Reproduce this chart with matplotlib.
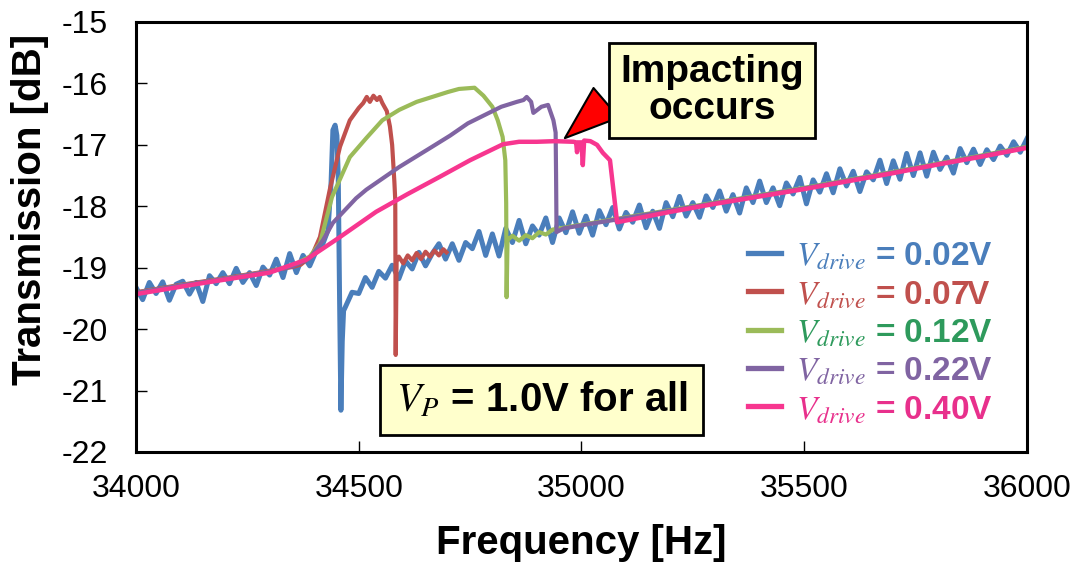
import numpy as np
import matplotlib
matplotlib.use("Agg")
import matplotlib.pyplot as plt

plt.rcParams['font.family'] = ['Liberation Sans', 'DejaVu Sans']
plt.rcParams['mathtext.fontset'] = 'stix'
plt.rcParams['axes.unicode_minus'] = False

# ---- data (frequency in Hz, transmission in dB) ----
# V_drive = 0.02 V (noisy trace, three pieces)
blue_f_left = np.arange(34000, 34421, 15)
blue_t_left = [-19.32, -19.52, -19.24, -19.42, -19.23, -19.53, -19.27, -19.22, -19.43, -19.24,
               -19.55, -19.13, -19.26, -19.08, -19.26, -19.01, -19.24, -19.08, -19.29, -18.99,
               -19.12, -18.86, -19.16, -18.77, -19.08, -18.80, -18.97, -18.72, -18.60]
blue_f_peak = [34431, 34438, 34442, 34447, 34451, 34454, 34457, 34460, 34463, 34466, 34470]
blue_t_peak = [-18.39, -17.60, -16.76, -16.68, -16.85, -17.50, -19.50, -21.32, -20.20, -19.70, -19.64]
blue_f_right = np.arange(34485, 36001, 15)
blue_t_right = [-19.40, -19.42, -19.16, -19.32, -19.06, -19.17, -18.96, -19.18, -18.89, -19.02,
                -18.75, -18.97, -18.77, -18.61, -18.86, -18.61, -18.88, -18.59, -18.69, -18.41,
                -18.80, -18.45, -18.81, -18.36, -18.59, -18.23, -18.61, -18.32, -18.47, -18.19,
                -18.59, -18.19, -18.43, -18.09, -18.44, -18.16, -18.47, -18.07, -18.30, -18.02,
                -18.37, -18.10, -18.26, -17.98, -18.35, -18.08, -18.36, -17.94, -18.17, -17.84,
                -18.16, -17.94, -18.18, -17.83, -18.02, -17.75, -18.08, -17.81, -18.11, -17.70,
                -17.94, -17.59, -17.94, -17.70, -17.99, -17.62, -17.80, -17.53, -17.96, -17.57,
                -17.77, -17.47, -17.78, -17.39, -17.67, -17.43, -17.76, -17.44, -17.57, -17.25,
                -17.63, -17.26, -17.56, -17.14, -17.50, -17.13, -17.51, -17.12, -17.40, -17.20,
                -17.46, -17.06, -17.29, -17.07, -17.32, -17.08, -17.24, -17.02, -17.17, -16.95,
                -17.12, -16.90]

# V_drive = 0.07 V
red_f = [34000, 34100, 34200, 34300, 34350, 34370, 34395, 34413, 34435, 34458, 34480, 34500,
         34510, 34518, 34525, 34533, 34541, 34547, 34553, 34563, 34570, 34575, 34580, 34582, 34583, 34585,
         34590, 34600, 34610, 34620, 34630, 34640, 34650, 34660, 34670, 34680, 34690, 34697]
red_t = [-19.40, -19.28, -19.17, -19.05, -18.99, -18.95, -18.80, -18.50, -17.73, -17.03, -16.60, -16.40,
         -16.32, -16.22, -16.30, -16.20, -16.27, -16.22, -16.32, -16.45, -16.70, -17.00, -17.60, -17.90, -20.42, -18.90,
         -18.82, -18.93, -18.80, -18.88, -18.76, -18.86, -18.74, -18.82, -18.72, -18.80, -18.70, -18.75]

# V_drive = 0.12 V
green_f = [34000, 34100, 34200, 34300, 34350, 34390, 34413, 34440, 34480, 34517, 34553, 34591,
           34630, 34665, 34700, 34725, 34760, 34780, 34800, 34812, 34823, 34829, 34831, 34832,
           34834, 34845, 34860, 34875, 34890, 34905, 34920, 34935, 35000, 35100, 35300, 35500,
           35700, 35900, 36000]
green_t = [-19.41, -19.29, -19.18, -19.06, -18.97, -18.82, -18.60, -17.85, -17.20, -16.89, -16.60, -16.43,
           -16.30, -16.22, -16.14, -16.09, -16.07, -16.20, -16.38, -16.60, -16.87, -17.25, -17.95, -19.48,
           -18.55, -18.48, -18.56, -18.47, -18.52, -18.42, -18.46, -18.38, -18.30, -18.18, -17.94, -17.70,
           -17.44, -17.17, -17.03]

# V_drive = 0.22 V
purple_f = [34000, 34100, 34200, 34300, 34350, 34390, 34420, 34442, 34494, 34517, 34591, 34665,
            34705, 34745, 34820, 34855, 34870, 34877, 34887, 34892, 34910, 34925, 34937, 34942,
            34943, 34944, 34960, 35000, 35100, 35300, 35500, 35700, 35900, 36000]
purple_t = [-19.41, -19.29, -19.18, -19.06, -18.98, -18.85, -18.55, -18.27, -17.87, -17.73, -17.36, -17.03,
            -16.85, -16.65, -16.38, -16.30, -16.27, -16.22, -16.30, -16.48, -16.38, -16.35, -16.60, -16.80,
            -17.50, -18.42, -18.36, -18.31, -18.19, -17.95, -17.71, -17.45, -17.18, -17.04]

# V_drive = 0.40 V
pink_f = [34000, 34150, 34300, 34382, 34450, 34539, 34610, 34682, 34750, 34824, 34860, 34900,
          34940, 34982, 34988, 34990, 34993, 35000, 35003, 35006, 35020, 35035, 35048, 35064,
          35071, 35080, 35200, 35300, 35400, 35500, 35600, 35700, 35800, 35900, 36000]
pink_t = [-19.43, -19.25, -19.08, -18.87, -18.54, -18.09, -17.80, -17.52, -17.25, -16.99, -16.95, -16.95,
          -16.94, -16.95, -16.96, -17.12, -16.96, -16.96, -17.33, -16.93, -16.94, -17.00, -17.13, -17.25,
          -17.69, -18.26, -18.09, -17.96, -17.84, -17.72, -17.59, -17.46, -17.32, -17.19, -17.05]

labels = [r'$V_{drive}$ = 0.02V', r'$V_{drive}$ = 0.07V', r'$V_{drive}$ = 0.12V',
          r'$V_{drive}$ = 0.22V', r'$V_{drive}$ = 0.40V']
line_colors = ['#4a7ebb', '#c0504d', '#9bbb59', '#8064a2', '#f7368f']
text_colors = ['#4a7ebb', '#c0504d', '#2e9a5c', '#8064a2', '#e8308c']

fig = plt.figure(figsize=(10.81, 5.64), dpi=100)
ax = fig.add_axes([0.1258, 0.1986, 0.8242, 0.7624])

blue_f = np.concatenate([blue_f_left, blue_f_peak, blue_f_right])
blue_t = np.concatenate([blue_t_left, blue_t_peak, blue_t_right])

h1, = ax.plot(blue_f, blue_t, color=line_colors[0], lw=3.6, label=labels[0])
h2, = ax.plot(red_f, red_t, color=line_colors[1], lw=3.0, label=labels[1])
h3, = ax.plot(green_f, green_t, color=line_colors[2], lw=3.0, label=labels[2])
h4, = ax.plot(purple_f, purple_t, color=line_colors[3], lw=3.0, label=labels[3])
h5, = ax.plot(pink_f, pink_t, color=line_colors[4], lw=3.2, label=labels[4])

ax.set_xlim(34000, 36000)
ax.set_ylim(-22, -15)
ax.set_xticks([34000, 34500, 35000, 35500, 36000])
ax.set_yticks(range(-22, -14))
ax.tick_params(direction='in', length=8, width=1, labelsize=23)
ax.tick_params(axis='y', pad=20)
ax.tick_params(axis='x', pad=16)
for s in ax.spines.values():
    s.set_linewidth(2.2)

ax.set_xlabel('Frequency [Hz]', fontsize=29, fontweight='bold', labelpad=14)
ax.set_ylabel('Transmission [dB]', fontsize=29, fontweight='bold')
ax.yaxis.set_label_coords(-0.098, 0.565)

leg = ax.legend(handles=[h1, h2, h3, h4, h5], loc='upper left', bbox_to_anchor=(0.668, 0.53),
                frameon=False, borderpad=0, handlelength=1.0, handletextpad=0.45,
                labelspacing=0.22, labelcolor=text_colors,
                prop=dict(family='Liberation Sans', weight='bold', size=24))
for ln in leg.get_lines():
    ln.set_linewidth(3.8)

box = dict(boxstyle='square,pad=0.28', fc='#ffffcc', ec='black', lw=2)
ax.annotate('Impacting\noccurs', xy=(34958, -16.92), xytext=(35293, -16.12),
            ha='center', va='center', fontsize=28, fontweight='bold', linespacing=1.05,
            bbox=box,
            arrowprops=dict(arrowstyle='wedge,tail_width=1.0', fc='red', ec='black', lw=1.5,
                            relpos=(0, 0.5)))

ax.text(34911, -21.15, r'$V_P$ = 1.0V for all', ha='center', va='center',
        fontsize=29, fontweight='bold',
        bbox=dict(boxstyle='square,pad=0.38', fc='#ffffcc', ec='black', lw=2))

fig.savefig('out.png', dpi=100)
